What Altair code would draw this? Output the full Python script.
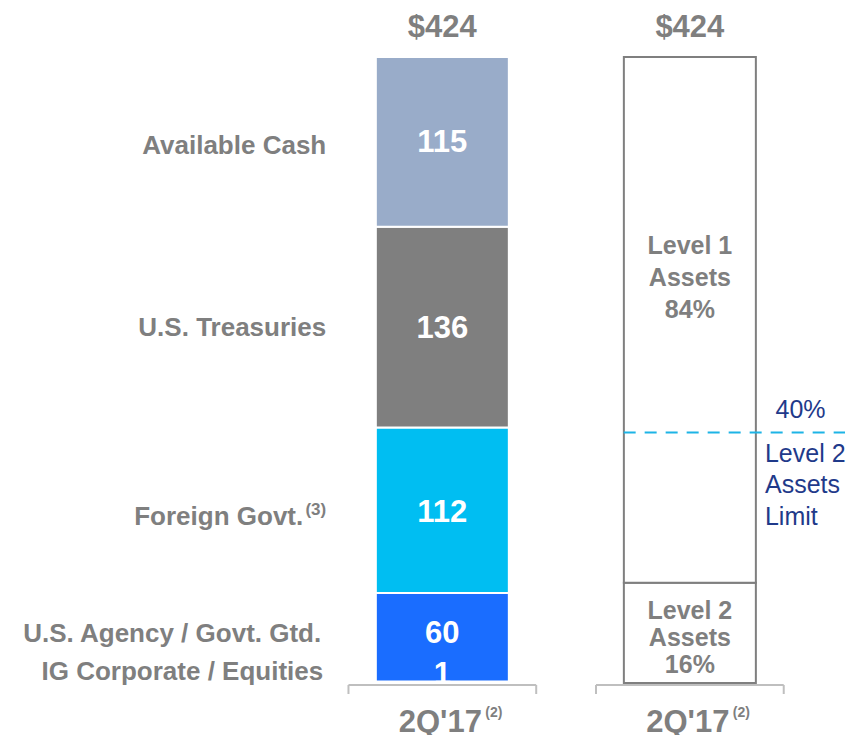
import altair as alt
import pandas as pd

# ---------------- data ----------------
categories = ["IG Corporate / Equities", "U.S. Agency / Govt. Gtd.", "Foreign Govt.",
              "U.S. Treasuries", "Available Cash"]
notes = ["", "", "(3)", "", ""]
values = [1, 60, 112, 136, 115]
colors = ["#1A6DFF", "#1A6DFF", "#00BEF2", "#7F7F7F", "#99ACC9"]

level_names = ["Level 2\nAssets\n16%", "Level 1\nAssets\n84%"]
level_shares = [16, 84]
limit_share = 40
limit_label = "40%"
limit_text = "Level 2\nAssets\nLimit"
period_label = "2Q'17"
period_note = "(2)"

# ---------------- layout ----------------
W, H = 842, 727
x_dom = [-0.73453, 2.62675]
y_dom = [-35.22, 457.19]
px_x = W / (x_dom[1] - x_dom[0])
px_y = H / (y_dom[1] - y_dom[0])

GRAY = "#7F7F7F"
NAVY = "#1F3A8A"
FONT = "Liberation Sans"

# per-label nudges (pixels)
CAT_DY = {"Available Cash": 4, "U.S. Treasuries": 1, "Foreign Govt.": 7,
          "U.S. Agency / Govt. Gtd.": -3, "IG Corporate / Equities": -10}
CAT_DX = {"Available Cash": 0, "U.S. Treasuries": 0, "Foreign Govt.": -23,
          "U.S. Agency / Govt. Gtd.": -5, "IG Corporate / Equities": -3}
VAL_DY = {"Available Cash": 1, "U.S. Treasuries": 2, "Foreign Govt.": 3,
          "U.S. Agency / Govt. Gtd.": -3, "IG Corporate / Equities": -7}

total = sum(values)

xs = alt.Scale(domain=x_dom, nice=False, zero=False)
ys = alt.Scale(domain=y_dom, nice=False, zero=False)

# left stacked bar
y0, rows = 0, []
for c, n, v, col in zip(categories, notes, values, colors):
    rows.append(dict(x=1, cat=c, note=n, value=v, y0=y0, y1=y0 + v, mid=y0 + v / 2,
                     color=col, label=str(v)))
    y0 += v
left = pd.DataFrame(rows)

# right bar
cum, rrows = 0, []
for name, s in zip(level_names, level_shares):
    a = total * cum / 100
    b = total * (cum + s) / 100
    rrows.append(dict(x=2, name=name, lvl=len(rrows), y0=a, y1=b, mid=(a + b) / 2))
    cum += s
right = pd.DataFrame(rrows)

tot = pd.DataFrame(dict(x=[1, 2], total=[total, total], label=["$" + str(total)] * 2))

base_left = alt.Chart(left)
cat_x = 1 - (442.5 - 325) / px_x

layers = []
layers.append(base_left.mark_bar(size=133, stroke="white", strokeWidth=2).encode(
    x=alt.X("x:Q", scale=xs, axis=None),
    y=alt.Y("y0:Q", scale=ys, axis=None),
    y2="y1:Q",
    color=alt.Color("color:N", scale=None),
))
layers.append(alt.Chart(right).mark_bar(size=132, fill="white", stroke=GRAY, strokeWidth=2).encode(
    x=alt.X("x:Q", scale=xs, axis=None),
    y=alt.Y("y0:Q", scale=ys, axis=None),
    y2="y1:Q",
))

for c in categories:
    sel = base_left.transform_filter(alt.datum.cat == c)
    layers.append(sel.mark_text(dy=VAL_DY[c], color="white", fontSize=31, fontWeight="bold",
                                font=FONT, baseline="middle").encode(
        x=alt.X("x:Q", scale=xs), y=alt.Y("mid:Q", scale=ys), text="label:N"))
    layers.append(sel.transform_calculate(cx=str(cat_x)).mark_text(
        dy=CAT_DY[c], dx=CAT_DX[c], color=GRAY, fontSize=26, fontWeight="bold", font=FONT,
        baseline="middle", align="right").encode(
        x=alt.X("cx:Q", scale=xs), y=alt.Y("mid:Q", scale=ys), text="cat:N"))

# footnote markers next to category labels
layers.append(base_left.transform_filter("datum.note != ''").transform_calculate(
    cx=str(cat_x)).mark_text(dy=0, color=GRAY, fontSize=17, fontWeight="bold", font=FONT,
                             baseline="middle", align="right").encode(
    x=alt.X("cx:Q", scale=xs), y=alt.Y("mid:Q", scale=ys), text="note:N"))

layers.append(alt.Chart(tot).mark_text(dy=-29, color=GRAY, fontSize=31, fontWeight="bold", font=FONT,
                                       baseline="middle").encode(
    x=alt.X("x:Q", scale=xs), y=alt.Y("total:Q", scale=ys), text="label:N"))

lvl_txt = dict(color=GRAY, fontSize=25, fontWeight="bold", font=FONT, baseline="middle",
               lineBreak="\n")
base_right = alt.Chart(right)
layers.append(base_right.transform_filter("datum.lvl == 1").mark_text(lineHeight=32, dy=-74,
                                                                       **lvl_txt).encode(
    x=alt.X("x:Q", scale=xs), y=alt.Y("mid:Q", scale=ys), text="name:N"))
layers.append(base_right.transform_filter("datum.lvl == 0").mark_text(lineHeight=27, dy=-22,
                                                                       **lvl_txt).encode(
    x=alt.X("x:Q", scale=xs), y=alt.Y("mid:Q", scale=ys), text="name:N"))

lim = pd.DataFrame(dict(xa=[2 - 67 / px_x], xb=[x_dom[1]], y=[total * limit_share / 100],
                        lab=[limit_label], txt=[limit_text]))
base_lim = alt.Chart(lim)
layers.append(base_lim.mark_rule(color="#1DB4E6", strokeWidth=2, strokeDash=[12, 9]).encode(
    x=alt.X("xa:Q", scale=xs), x2="xb:Q", y=alt.Y("y:Q", scale=ys)))
layers.append(base_lim.transform_calculate(lx=str(2 + (805 - 693) / px_x)).mark_text(
    dy=-23, color=NAVY, fontSize=25, font=FONT, baseline="middle").encode(
    x=alt.X("lx:Q", scale=xs), y=alt.Y("y:Q", scale=ys), text="lab:N"))
layers.append(base_lim.transform_calculate(lx=str(2 + (769 - 693) / px_x)).mark_text(
    dy=21, color=NAVY, fontSize=25, font=FONT, baseline="middle", align="left",
    lineBreak="\n", lineHeight=31.5).encode(
    x=alt.X("lx:Q", scale=xs), y=alt.Y("y:Q", scale=ys), text="txt:N"))

# bottom brackets and period labels
half = 95 / px_x
br = pd.DataFrame(dict(x=[1, 2], lab=[period_label] * 2, note=[period_note] * 2))
base_br = alt.Chart(br).transform_calculate(
    xa=f"datum.x - {half}", xb=f"datum.x + {half}",
    ya=str(-2 / px_y), yb=str(-11 / px_y), yl=str(-40 / px_y))
BR = dict(color="#BFBFBF", strokeWidth=2)
layers.append(base_br.mark_rule(**BR).encode(
    x=alt.X("xa:Q", scale=xs), x2="xb:Q", y=alt.Y("ya:Q", scale=ys)))
layers.append(base_br.mark_rule(**BR).encode(
    x=alt.X("xa:Q", scale=xs), y=alt.Y("ya:Q", scale=ys), y2="yb:Q"))
layers.append(base_br.mark_rule(**BR).encode(
    x=alt.X("xb:Q", scale=xs), y=alt.Y("ya:Q", scale=ys), y2="yb:Q"))
layers.append(base_br.mark_text(dx=-2, color=GRAY, fontSize=31, fontWeight="bold", font=FONT,
                                baseline="middle").encode(
    x=alt.X("x:Q", scale=xs), y=alt.Y("yl:Q", scale=ys), text="lab:N"))
layers.append(base_br.mark_text(dx=43, dy=-10, color=GRAY, fontSize=14, fontWeight="bold", font=FONT,
                                baseline="middle", align="left").encode(
    x=alt.X("x:Q", scale=xs), y=alt.Y("yl:Q", scale=ys), text="note:N"))

chart = alt.layer(*layers).properties(
    width=W, height=H, padding=0, autosize=alt.AutoSizeParams(type="none"), background="white"
).configure_view(stroke=None)

chart.save("out.html", embed_options={"renderer": "svg", "actions": False})
